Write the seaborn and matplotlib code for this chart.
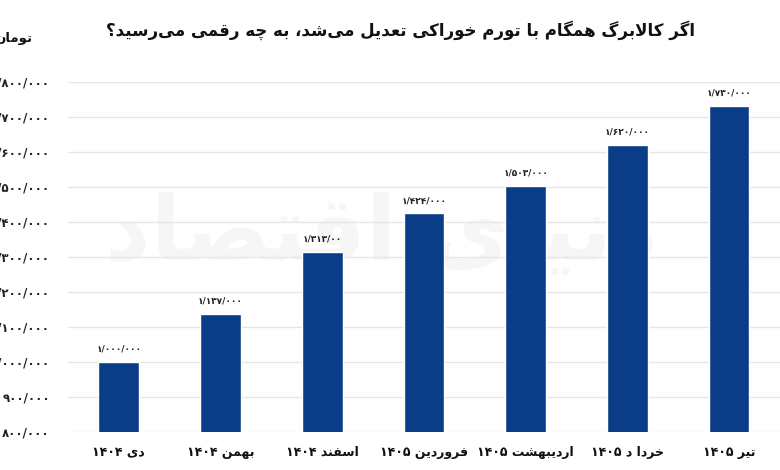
import numpy as np
import pandas as pd
import matplotlib
matplotlib.use('Agg')
import matplotlib.pyplot as plt
import matplotlib.ticker as mticker
import seaborn as sns

# داده‌ها
months = ['دی ۱۴۰۴', 'بهمن ۱۴۰۴', 'اسفند ۱۴۰۴', 'فروردین ۱۴۰۵',
          'اردیبهشت ۱۴۰۵', 'خردا د ۱۴۰۵', 'تیر ۱۴۰۵']
values = [1000000, 1137000, 1313000, 1424000, 1503000, 1620000, 1730000]
bar_labels = ['۱/۰۰۰/۰۰۰', '۱/۱۳۷/۰۰۰', '۱/۳۱۳/۰۰', '۱/۴۲۴/۰۰۰',
              '۱/۵۰۳/۰۰۰', '۱/۶۲۰/۰۰۰', '۱/۷۳۰/۰۰۰']
title = 'اگر کالابرگ همگام با تورم خوراکی تعدیل می‌شد، به چه رقمی می‌رسید؟'
unit = 'تومان'
watermark = 'دنیای اقتصاد'

# --- شکل‌دهی ساده حروف فارسی (matplotlib خودش این کار را نمی‌کند) ---
FORMS = {
    'ا': ('\uFE8D', '\uFE8E', None, None),
    'ب': ('\uFE8F', '\uFE90', '\uFE91', '\uFE92'),
    'پ': ('\uFB56', '\uFB57', '\uFB58', '\uFB59'),
    'ت': ('\uFE95', '\uFE96', '\uFE97', '\uFE98'),
    'ث': ('\uFE99', '\uFE9A', '\uFE9B', '\uFE9C'),
    'ج': ('\uFE9D', '\uFE9E', '\uFE9F', '\uFEA0'),
    'چ': ('\uFB7A', '\uFB7B', '\uFB7C', '\uFB7D'),
    'ح': ('\uFEA1', '\uFEA2', '\uFEA3', '\uFEA4'),
    'خ': ('\uFEA5', '\uFEA6', '\uFEA7', '\uFEA8'),
    'د': ('\uFEA9', '\uFEAA', None, None),
    'ذ': ('\uFEAB', '\uFEAC', None, None),
    'ر': ('\uFEAD', '\uFEAE', None, None),
    'ز': ('\uFEAF', '\uFEB0', None, None),
    'ژ': ('\uFB8A', '\uFB8B', None, None),
    'س': ('\uFEB1', '\uFEB2', '\uFEB3', '\uFEB4'),
    'ش': ('\uFEB5', '\uFEB6', '\uFEB7', '\uFEB8'),
    'ص': ('\uFEB9', '\uFEBA', '\uFEBB', '\uFEBC'),
    'ض': ('\uFEBD', '\uFEBE', '\uFEBF', '\uFEC0'),
    'ط': ('\uFEC1', '\uFEC2', '\uFEC3', '\uFEC4'),
    'ظ': ('\uFEC5', '\uFEC6', '\uFEC7', '\uFEC8'),
    'ع': ('\uFEC9', '\uFECA', '\uFECB', '\uFECC'),
    'غ': ('\uFECD', '\uFECE', '\uFECF', '\uFED0'),
    'ف': ('\uFED1', '\uFED2', '\uFED3', '\uFED4'),
    'ق': ('\uFED5', '\uFED6', '\uFED7', '\uFED8'),
    'ک': ('\uFB8E', '\uFB8F', '\uFB90', '\uFB91'),
    'گ': ('\uFB92', '\uFB93', '\uFB94', '\uFB95'),
    'ل': ('\uFEDD', '\uFEDE', '\uFEDF', '\uFEE0'),
    'م': ('\uFEE1', '\uFEE2', '\uFEE3', '\uFEE4'),
    'ن': ('\uFEE5', '\uFEE6', '\uFEE7', '\uFEE8'),
    'و': ('\uFEED', '\uFEEE', None, None),
    'ه': ('\uFEE9', '\uFEEA', '\uFEEB', '\uFEEC'),
    'ی': ('\uFBFC', '\uFBFD', '\uFBFE', '\uFBFF'),
}


def dual(c):
    return c in FORMS and FORMS[c][2] is not None


def shape(text):
    out = []
    i = 0
    n = len(text)
    while i < n:
        c = text[i]
        prev = text[i - 1] if i > 0 else ''
        joins_prev = dual(prev)
        if c == 'ل' and i + 1 < n and text[i + 1] == 'ا':
            out.append('\uFEFC' if joins_prev else '\uFEFB')
            i += 2
            continue
        if c in FORMS:
            nxt = text[i + 1] if i + 1 < n else ''
            joins_next = dual(c) and nxt in FORMS
            iso, fin, ini, med = FORMS[c]
            if joins_prev and joins_next:
                out.append(med)
            elif joins_prev:
                out.append(fin)
            elif joins_next:
                out.append(ini)
            else:
                out.append(iso)
        elif c != '\u200c':
            out.append(c)
        i += 1
    # ترتیب نمایشی: راست به چپ، اعداد چپ به راست
    tokens = []
    digits = set('۰۱۲۳۴۵۶۷۸۹0123456789/')
    for ch in out:
        if ch in digits and tokens and tokens[-1][0] in digits:
            tokens[-1] += ch
        else:
            tokens.append(ch)
    return ''.join(reversed(tokens))


def fa_num(v):
    s = f'{int(v):,}'.replace(',', '/')
    return s.translate(str.maketrans('0123456789', '۰۱۲۳۴۵۶۷۸۹'))


df = pd.DataFrame({'month': [shape(m) for m in months], 'value': values})

sns.set_style('white')
plt.rcParams['font.family'] = ['DejaVu Sans']

fig = plt.figure(figsize=(7.8, 4.7), dpi=100)
ax = fig.add_axes([0.087, 0.081, 0.913, 0.745])

# واترمارک کم‌رنگ
ax.text(0.44, 0.56, shape(watermark), transform=ax.transAxes, ha='center', va='center',
        fontsize=64, color='#f6f6f6', fontweight='bold', zorder=0)

sns.barplot(data=df, x='month', y='value', color='#0b3c87', width=0.4,
            saturation=1, ax=ax, zorder=3)

ax.set_ylim(800000, 1800000)
ax.set_xlim(-0.5, 6.39)
ax.set_yticks(np.arange(800000, 1800001, 100000))
ax.yaxis.set_major_formatter(mticker.FuncFormatter(lambda v, p: fa_num(v)))
ax.yaxis.grid(True, color='#e6e6e6', linewidth=1, zorder=1)
ax.set_axisbelow(True)
for s in ax.spines.values():
    s.set_visible(False)
ax.tick_params(axis='y', length=0, pad=13, labelsize=8.5, labelcolor='#222222')
ax.tick_params(axis='x', length=0, pad=10, labelsize=9, labelcolor='#111111')
for lbl in ax.get_xticklabels() + ax.get_yticklabels():
    lbl.set_fontweight('bold')
ax.set_xticks(np.arange(-0.5, 6.6, 1), minor=True)
ax.tick_params(axis='x', which='minor', length=5, color='#e6e6e6', width=1)
ax.set_xlabel('')
ax.set_ylabel('')

for bar, lab in zip(ax.patches, bar_labels):
    ax.annotate(lab, (bar.get_x() + bar.get_width() / 2, bar.get_height()),
                xytext=(0, 6), textcoords='offset points', ha='center', va='bottom',
                fontsize=6.5, fontweight='bold', color='#222222')

fig.text(0.513, 0.935, shape(title), ha='center', va='center', fontsize=12,
         fontweight='bold', color='#111111')
fig.text(0.041, 0.918, shape(unit), ha='right', va='center', fontsize=9.5,
         fontweight='bold', color='#111111')

fig.savefig('out.png', dpi=100)
